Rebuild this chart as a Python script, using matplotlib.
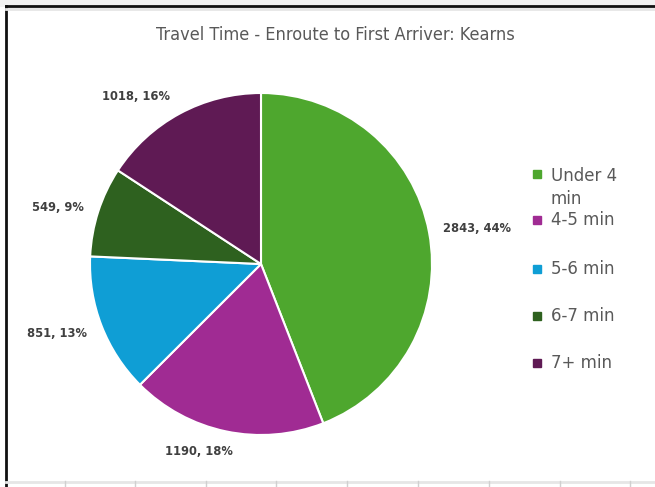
import matplotlib.pyplot as plt
from matplotlib.lines import Line2D

## DATA ##
categories = ['Under 4\nmin', '4-5 min', '5-6 min', '6-7 min', '7+ min']
counts = [2843, 1190, 851, 549, 1018]
colors = ['#4EA72E', '#A02B93', '#0F9ED5', '#2E611F', '#5F1A54']
title = 'Travel Time - Enroute to First Arriver: Kearns'

# label spots (pie radius units), roughly where Excel put them
label_xy = [(1.263, 0.205), (-0.363, -1.099), (-1.193, -0.404),
            (-1.187, 0.333), (-0.731, 0.977)]

W, H = 655, 487
fig = plt.figure(figsize=(W / 100, H / 100), dpi=100)
fig.patch.set_facecolor('white')

# pie axes: centre (261,264) px, radius 171 px
cx, cy, r = 261, 264, 171
ax = fig.add_axes([(cx - r) / W, (H - cy - r) / H, 2 * r / W, 2 * r / H])
wedges, _ = ax.pie(counts, colors=colors, startangle=90, counterclock=False,
                   radius=1.0, wedgeprops=dict(edgecolor='white', linewidth=1.5))
ax.set_xlim(-1, 1)
ax.set_ylim(-1, 1)
ax.set_aspect('equal')
ax.axis('off')

total = sum(counts)
for (x, y), v in zip(label_xy, counts):
    ax.text(x, y, f'{v}, {round(100 * v / total)}%', ha='center', va='center',
            fontsize=8.3, fontweight='bold', color='#404040', clip_on=False)

fig.text(335 / W, 1 - 35 / H, title, ha='center', va='center', fontsize=13,
         color='#595959', fontstretch='condensed')

# legend, placed by hand
leg_y = [187.5, 220, 269, 316, 363]
sq_y = [174, 220, 269, 316, 363]
for name, col, ty, sy in zip(categories, colors, leg_y, sq_y):
    fig.patches.append(plt.Rectangle((533 / W, 1 - (sy + 4) / H), 8 / W, 8 / H,
                                     color=col, transform=fig.transFigure, figure=fig))
    fig.text(551 / W, 1 - ty / H, name, ha='left', va='center', fontsize=12,
             color='#595959', linespacing=1.35)

# spreadsheet frame bits around the chart
tf = fig.transFigure
fig.lines.append(Line2D([0, 1], [1 - 3 / H, 1 - 3 / H], color='#F2F2F2', lw=5, transform=tf))
fig.lines.append(Line2D([5.5 / W, 1], [1 - 6 / H, 1 - 6 / H], color='#111111', lw=2, transform=tf))
fig.lines.append(Line2D([5.5 / W, 5.5 / W], [0, 1 - 6 / H], color='#111111', lw=2, transform=tf))
fig.lines.append(Line2D([6 / W, 1], [1 - 9 / H, 1 - 9 / H], color='#E6E6E6', lw=2, transform=tf))
fig.lines.append(Line2D([6 / W, 1], [1 - 482 / H, 1 - 482 / H], color='#E6E6E6', lw=2, transform=tf))
for gx in [65, 135, 206, 276, 347, 418, 489, 560, 630]:
    fig.lines.append(Line2D([gx / W, gx / W], [0, 1 - 481 / H], color='#D0D0D0', lw=1, transform=tf))

fig.savefig('out.png', dpi=100)
